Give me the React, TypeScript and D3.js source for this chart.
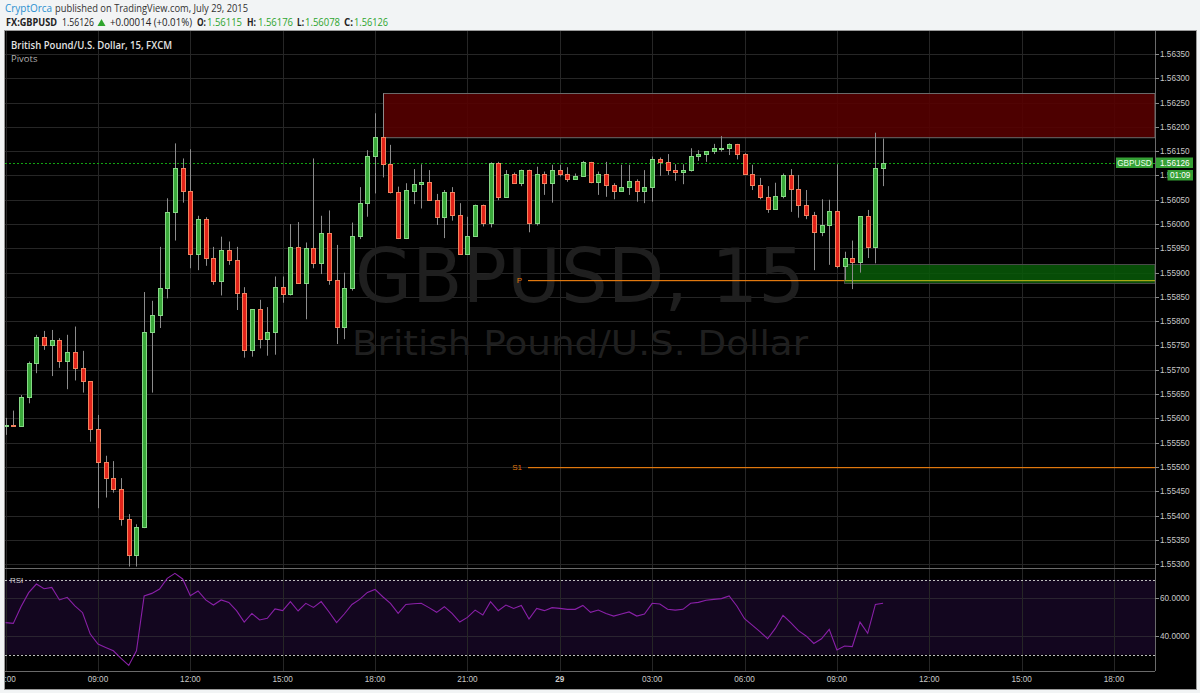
import React from 'react';
import * as d3 from 'd3';

const W = 1200;
const H = 693;

// first candle: 28 Jul 2015 06:00, 15-minute bars
const firstCandle = new Date(2015, 6, 28, 6, 0);

const opens = [
  1.55585, 1.55586, 1.55584, 1.55643, 1.55713, 1.55767, 1.55750, 1.55761, 1.55719, 1.55736, 1.55704, 1.55676,
  1.55578, 1.55510, 1.55477, 1.55455, 1.55393, 1.55318, 1.55377, 1.55778, 1.55812, 1.55868, 1.56024, 1.56115,
  1.56067, 1.55938, 1.56010, 1.55931, 1.55883, 1.55947, 1.55926, 1.55858, 1.55741, 1.55825, 1.55764, 1.55778,
  1.55870, 1.55855, 1.55953, 1.55879, 1.55951, 1.55919, 1.55982, 1.55885, 1.55789, 1.55868, 1.55975, 1.56043,
  1.56140, 1.56180, 1.56123, 1.56065, 1.55971, 1.56069, 1.56082, 1.56087, 1.56050, 1.56015, 1.56066, 1.56018,
  1.55939, 1.55975, 1.56039, 1.56003, 1.56126, 1.56056, 1.56104, 1.56085, 1.56111, 1.56002, 1.56102, 1.56084,
  1.56111, 1.56103, 1.56093, 1.56098, 1.56127, 1.56086, 1.56103, 1.56080, 1.56067, 1.56076, 1.56088, 1.56069,
  1.56076, 1.56133, 1.56128, 1.56111, 1.56108, 1.56111, 1.56140, 1.56144, 1.56150, 1.56155, 1.56157, 1.56164,
  1.56144, 1.56102, 1.56080, 1.56055, 1.56030, 1.56058, 1.56101, 1.56072, 1.56039, 1.56019, 1.55984, 1.55997,
  1.56026, 1.55914, 1.55930, 1.55921, 1.56016, 1.55953, 1.56115,
];
const highs = [
  1.55601, 1.55616, 1.55648, 1.55717, 1.55772, 1.55780, 1.55782, 1.55765, 1.55772, 1.55789, 1.55739, 1.55676,
  1.55607, 1.55523, 1.55512, 1.55477, 1.55403, 1.55382, 1.55860, 1.55842, 1.55953, 1.56053, 1.56166, 1.56135,
  1.56154, 1.56017, 1.56014, 1.55953, 1.55974, 1.55964, 1.55953, 1.55870, 1.55825, 1.55844, 1.55829, 1.55892,
  1.55892, 1.56000, 1.56004, 1.55962, 1.56135, 1.56017, 1.56028, 1.55957, 1.55900, 1.56003, 1.56076, 1.56152,
  1.56228, 1.56269, 1.56163, 1.56077, 1.56084, 1.56113, 1.56123, 1.56111, 1.56062, 1.56070, 1.56076, 1.56043,
  1.56015, 1.56040, 1.56040, 1.56127, 1.56128, 1.56111, 1.56106, 1.56112, 1.56112, 1.56118, 1.56108, 1.56122,
  1.56122, 1.56117, 1.56104, 1.56130, 1.56128, 1.56108, 1.56128, 1.56084, 1.56122, 1.56122, 1.56092, 1.56111,
  1.56139, 1.56137, 1.56144, 1.56123, 1.56123, 1.56156, 1.56152, 1.56150, 1.56165, 1.56181, 1.56166, 1.56165,
  1.56146, 1.56122, 1.56095, 1.56078, 1.56085, 1.56104, 1.56113, 1.56101, 1.56070, 1.56025, 1.56051, 1.56050,
  1.56123, 1.55943, 1.55966, 1.56016, 1.56029, 1.56188, 1.56176,
];
const lows = [
  1.55566, 1.55583, 1.55583, 1.55631, 1.55693, 1.55741, 1.55687, 1.55704, 1.55660, 1.55678, 1.55653, 1.55552,
  1.55415, 1.55437, 1.55447, 1.55379, 1.55295, 1.55295, 1.55374, 1.55653, 1.55786, 1.55847, 1.55966, 1.56044,
  1.55909, 1.55905, 1.55914, 1.55875, 1.55853, 1.55916, 1.55823, 1.55725, 1.55727, 1.55744, 1.55729, 1.55731,
  1.55838, 1.55853, 1.55878, 1.55804, 1.55909, 1.55897, 1.55875, 1.55753, 1.55763, 1.55863, 1.55969, 1.56015,
  1.56063, 1.56096, 1.56063, 1.55969, 1.55969, 1.56041, 1.56032, 1.56049, 1.55998, 1.55971, 1.56007, 1.55938,
  1.55938, 1.55975, 1.55995, 1.55993, 1.56049, 1.56056, 1.56084, 1.56078, 1.55983, 1.55997, 1.56060, 1.56044,
  1.56098, 1.56087, 1.56091, 1.56097, 1.56084, 1.56060, 1.56056, 1.56051, 1.56067, 1.56060, 1.56046, 1.56043,
  1.56046, 1.56099, 1.56101, 1.56089, 1.56082, 1.56108, 1.56130, 1.56128, 1.56144, 1.56149, 1.56142, 1.56133,
  1.56102, 1.56070, 1.56051, 1.56023, 1.56029, 1.56053, 1.56025, 1.56013, 1.56010, 1.55905, 1.55975, 1.55916,
  1.55909, 1.55885, 1.55866, 1.55900, 1.55930, 1.55919, 1.56078,
];
const closes = [
  1.55586, 1.55585, 1.55643, 1.55713, 1.55767, 1.55750, 1.55761, 1.55719, 1.55736, 1.55704, 1.55676, 1.55578,
  1.55510, 1.55477, 1.55455, 1.55393, 1.55318, 1.55377, 1.55778, 1.55812, 1.55868, 1.56024, 1.56115, 1.56067,
  1.55938, 1.56010, 1.55931, 1.55883, 1.55947, 1.55926, 1.55858, 1.55741, 1.55825, 1.55764, 1.55778, 1.55870,
  1.55855, 1.55953, 1.55879, 1.55951, 1.55919, 1.55982, 1.55885, 1.55789, 1.55868, 1.55975, 1.56043, 1.56140,
  1.56180, 1.56123, 1.56065, 1.55971, 1.56070, 1.56082, 1.56087, 1.56050, 1.56015, 1.56066, 1.56018, 1.55939,
  1.55975, 1.56039, 1.56003, 1.56126, 1.56056, 1.56104, 1.56085, 1.56111, 1.56002, 1.56102, 1.56084, 1.56111,
  1.56103, 1.56093, 1.56098, 1.56127, 1.56086, 1.56103, 1.56080, 1.56067, 1.56076, 1.56088, 1.56069, 1.56076,
  1.56133, 1.56128, 1.56111, 1.56108, 1.56111, 1.56140, 1.56144, 1.56150, 1.56156, 1.56157, 1.56164, 1.56144,
  1.56102, 1.56080, 1.56055, 1.56030, 1.56058, 1.56101, 1.56072, 1.56039, 1.56019, 1.55984, 1.55997, 1.56026,
  1.55914, 1.55930, 1.55921, 1.56016, 1.55953, 1.56115, 1.56126,
];
const rsiValues = [
  47.1, 46.7, 55.6, 63.1, 67.7, 65.2, 65.9, 59.2, 60.6, 56.0, 52.4, 41.0,
  35.7, 33.9, 32.1, 28.0, 24.3, 32.1, 61.3, 62.7, 65.0, 70.7, 73.4, 70.4,
  61.5, 64.0, 59.2, 56.5, 59.2, 57.9, 53.5, 47.4, 52.0, 48.5, 49.4, 54.4,
  53.5, 58.3, 53.3, 57.4, 55.2, 58.3, 52.9, 47.1, 51.7, 56.8, 59.5, 63.2,
  64.8, 60.9, 57.4, 52.0, 56.8, 57.2, 57.4, 55.1, 52.6, 55.6, 52.0, 47.4,
  49.9, 53.8, 51.2, 58.3, 53.5, 56.5, 54.7, 56.3, 49.0, 54.7, 53.5, 55.1,
  54.7, 54.2, 54.2, 56.3, 52.6, 53.8, 52.0, 50.6, 51.7, 52.8, 50.6, 51.7,
  57.4, 57.0, 54.2, 53.8, 54.2, 57.4, 57.9, 59.0, 59.5, 59.9, 61.3, 56.0,
  49.2, 45.8, 42.3, 38.5, 44.0, 51.0, 47.1, 42.8, 40.0, 36.0, 38.5, 43.5,
  32.5, 34.6, 34.3, 47.4, 41.4, 56.8, 57.4,
];

const priceTicks = [
  1.553, 1.5535, 1.554, 1.5545, 1.555, 1.5555, 1.556, 1.5565, 1.557, 1.5575, 1.558,
  1.5585, 1.559, 1.5595, 1.56, 1.5605, 1.561, 1.5615, 1.562, 1.5625, 1.563, 1.5635,
];
const rsiTicks = [40, 60];
const rsiBands = [30, 70];

const lastPrice = 1.56126;
const countdown = '01:09';
const symbol = 'GBPUSD';

const redZone = { start: new Date(2015, 6, 28, 18, 15), top: 1.5627, bottom: 1.56179 };
const greenZone = { start: new Date(2015, 6, 29, 9, 15), top: 1.55917, bottom: 1.55878 };
const pivots = [
  { label: 'P', value: 1.55884, start: new Date(2015, 6, 28, 23, 0) },
  { label: 'S1', value: 1.555, start: new Date(2015, 6, 28, 23, 0) },
];

// layout
const L = 5;
const PR = 1155; // plot right
const FR = 1196; // frame right
const MT = 31;
const MB = 568;
const RT = 569;
const RB = 671;
const FB = 689;

const xScale = d3
  .scaleTime()
  .domain([new Date(2015, 6, 28, 6, 0), new Date(2015, 6, 29, 18, 0)])
  .range([5.6, 1114]);
const yScale = d3.scaleLinear().domain([1.553, 1.5635]).range([564.1, 54]);
const rsiScale = d3.scaleLinear().domain([30, 70]).range([654.7, 579.7]);

const timeTicks = d3.timeHour.every(3)!.range(new Date(2015, 6, 28, 6, 0), new Date(2015, 6, 29, 18, 1));

const candles = opens.map((o, k) => ({
  t: new Date(firstCandle.getTime() + k * 15 * 60000),
  o,
  h: highs[k],
  l: lows[k],
  c: closes[k],
}));

const GREEN = '#3aa83a';
const GREEN_EDGE = '#86d886';
const RED = '#e2231a';
const RED_EDGE = '#f2825e';
const GRID = '#262626';
const AXIS_TXT = '#c8c8c8';
const ORANGE = '#e0780f';
const FONT_AX = '"Liberation Sans", Arial, sans-serif';
const FONT_HD = '"Open Sans", "Liberation Sans", sans-serif';

export default function App() {
  const rsiLine = d3
    .line<number>()
    .x((_, k) => xScale(candles[k].t))
    .y((v) => rsiScale(v));

  const crisp = (v: number) => Math.round(v) + 0.5;
  const gzX = crisp(xScale(greenZone.start)) - 1;

  return (
    <svg
      width={W}
      height={H}
      style={{ position: 'absolute', left: 0, top: 0, display: 'block' }}
    >
      <defs>
        <clipPath id="mainClip">
          <rect x={L} y={MT} width={PR - L} height={MB - MT} />
        </clipPath>
        <clipPath id="rsiClip">
          <rect x={L} y={RT} width={PR - L} height={RB - RT} />
        </clipPath>
        <clipPath id="frameClip">
          <rect x={L} y={MT} width={FR - L} height={FB - MT} />
        </clipPath>
      </defs>
      <rect x={0} y={0} width={W} height={H} fill="#f2f4f5" />

      {/* header */}
      <g fontFamily={FONT_HD} fontSize={11}>
        <text x={5} y={12} fill="#2a8fd0" textLength={47} lengthAdjust="spacingAndGlyphs">CryptOrca</text>
        <text x={55} y={12} fill="#333" textLength={193} lengthAdjust="spacingAndGlyphs">published on TradingView.com, July 29, 2015</text>
        <text x={6} y={26} fill="#222" fontWeight="bold" textLength={51} lengthAdjust="spacingAndGlyphs">FX:GBPUSD</text>
        <text x={62} y={26} fill="#222" textLength={32} lengthAdjust="spacingAndGlyphs">1.56126</text>
        <polygon points="97.5,26 105.5,26 101.5,19" fill="#2ea52e" />
        <text x={110} y={26} fill="#222" textLength={82} lengthAdjust="spacingAndGlyphs">+0.00014 (+0.01%)</text>
        <text x={197} y={26} fill="#222" fontWeight="bold" textLength={9} lengthAdjust="spacingAndGlyphs">O:</text>
        <text x={207} y={26} fill="#2ea52e" textLength={35} lengthAdjust="spacingAndGlyphs">1.56115</text>
        <text x={247} y={26} fill="#222" fontWeight="bold" textLength={9} lengthAdjust="spacingAndGlyphs">H:</text>
        <text x={258} y={26} fill="#2ea52e" textLength={35} lengthAdjust="spacingAndGlyphs">1.56176</text>
        <text x={297} y={26} fill="#222" fontWeight="bold" textLength={7} lengthAdjust="spacingAndGlyphs">L:</text>
        <text x={305} y={26} fill="#2ea52e" textLength={35} lengthAdjust="spacingAndGlyphs">1.56078</text>
        <text x={344} y={26} fill="#222" fontWeight="bold" textLength={9} lengthAdjust="spacingAndGlyphs">C:</text>
        <text x={354} y={26} fill="#2ea52e" textLength={34} lengthAdjust="spacingAndGlyphs">1.56126</text>
      </g>

      {/* frame */}
      <rect x={L - 0.5} y={MT - 0.5} width={FR - L + 1} height={FB - MT + 1} fill="#000" stroke="#9a9a9a" />

      {/* main pane */}
      <g clipPath="url(#mainClip)">
        {priceTicks.map((p) => (
          <line key={p} x1={L} x2={PR} y1={crisp(yScale(p))} y2={crisp(yScale(p))} stroke={GRID} />
        ))}
        {timeTicks.map((t) => (
          <line key={+t} x1={crisp(xScale(t))} x2={crisp(xScale(t))} y1={MT} y2={MB} stroke={GRID} />
        ))}
        {/* watermark */}
        <text x={580} y={302} textAnchor="middle" fontFamily='"DejaVu Sans", sans-serif' fontSize={74} fill="#1f1f1f" textLength={450} lengthAdjust="spacingAndGlyphs">GBPUSD, 15</text>
        <text x={580} y={355} textAnchor="middle" fontFamily='"DejaVu Sans", sans-serif' fontSize={34} fill="#1f1f1f" textLength={456} lengthAdjust="spacingAndGlyphs">British Pound/U.S. Dollar</text>

        {/* pivots */}
        {pivots.map((pv) => (
          <g key={pv.label}>
            <rect x={xScale(pv.start) - 1} y={Math.round(yScale(pv.value))} width={PR - xScale(pv.start) + 1} height={1.2} fill={ORANGE} />
            <text x={xScale(pv.start) - 7} y={yScale(pv.value) + 3} textAnchor="end" fontFamily={FONT_AX} fontSize={8} fill={ORANGE}>{pv.label}</text>
          </g>
        ))}

        {/* zones */}
        <rect x={crisp(xScale(redZone.start))} y={crisp(yScale(redZone.top))} width={PR - crisp(xScale(redZone.start))} height={yScale(redZone.bottom) - yScale(redZone.top)} fill="#580000" fillOpacity={0.88} stroke="#6a6a6a" />
        <rect x={gzX} y={crisp(yScale(greenZone.top))} width={PR - gzX} height={yScale(greenZone.bottom) - yScale(greenZone.top)} fill="#085a08" fillOpacity={0.85} stroke="#4a4a4a" />
        {/* pivot seen through the green zone */}
        <rect x={gzX} y={Math.round(yScale(pivots[0].value))} width={PR - gzX} height={1.2} fill="#a6a616" />

        {/* current price line */}
        <line x1={L} x2={PR} y1={crisp(yScale(lastPrice))} y2={crisp(yScale(lastPrice))} stroke="#12a412" strokeDasharray="2,2" />

        {/* candles */}
        {candles.map((d, k) => {
          const x = Math.round(xScale(d.t));
          const up = d.c >= d.o;
          const yTop = yScale(Math.max(d.o, d.c));
          const yBot = yScale(Math.min(d.o, d.c));
          return (
            <g key={k}>
              <line x1={x + 0.5} x2={x + 0.5} y1={yScale(d.h)} y2={yScale(d.l)} stroke="#8c8c8c" />
              <rect
                x={x - 1.5}
                y={Math.round(yTop) + 0.5}
                width={4}
                height={Math.max(1, Math.round(yBot) - Math.round(yTop))}
                fill={up ? GREEN : RED}
                stroke={up ? GREEN_EDGE : RED_EDGE}
              />
            </g>
          );
        })}
      </g>

      {/* title */}
      <text x={11} y={48.5} fontFamily={FONT_HD} fontSize={11} fontWeight={600} fill="#e2e2e2" textLength={161} lengthAdjust="spacingAndGlyphs">British Pound/U.S. Dollar, 15, FXCM</text>
      <text x={11} y={62} fontFamily={FONT_HD} fontSize={9.5} fill="#b0b0b0">Pivots</text>

      {/* RSI pane */}
      <g clipPath="url(#rsiClip)">
        <rect x={L} y={rsiScale(70)} width={PR - L} height={rsiScale(30) - rsiScale(70)} fill="#13061f" />
        {rsiTicks.map((v) => (
          <line key={v} x1={L} x2={PR} y1={crisp(rsiScale(v))} y2={crisp(rsiScale(v))} stroke="#2a2430" />
        ))}
        {timeTicks.map((t) => (
          <line key={+t} x1={crisp(xScale(t))} x2={crisp(xScale(t))} y1={RT} y2={RB} stroke={GRID} />
        ))}
        {rsiBands.map((v) => (
          <line key={v} x1={L} x2={PR} y1={crisp(rsiScale(v))} y2={crisp(rsiScale(v))} stroke="#bdbdbd" strokeDasharray="2,2" />
        ))}
        <path d={rsiLine(rsiValues) || ''} fill="none" stroke="#8a20a8" strokeWidth={1.1} />
      </g>
      <text x={10} y={583} fontFamily={FONT_AX} fontSize={8} fill={AXIS_TXT}>RSI</text>

      {/* pane separators */}
      <line x1={L} x2={PR} y1={MB + 0.5} y2={MB + 0.5} stroke="#6a6a6a" />
      <line x1={L} x2={PR} y1={RB + 0.5} y2={RB + 0.5} stroke="#6a6a6a" />
      <line x1={PR + 0.5} x2={PR + 0.5} y1={MT} y2={RB} stroke="#6a6a6a" />

      {/* price axis */}
      <g fontFamily={FONT_AX} fontSize={8.2} fill={AXIS_TXT}>
        {priceTicks.map((p) => {
          const y = yScale(p);
          if (y > MB - 6) return null;
          return (
            <g key={p}>
              <line x1={PR} x2={PR + 4} y1={crisp(y)} y2={crisp(y)} stroke="#8a8a8a" />
              <text x={1160} y={y + 3}>{p.toFixed(5)}</text>
            </g>
          );
        })}
        {rsiTicks.map((v) => (
          <g key={v}>
            <line x1={PR} x2={PR + 4} y1={crisp(rsiScale(v))} y2={crisp(rsiScale(v))} stroke="#8a8a8a" />
            <text x={1160} y={rsiScale(v) + 3}>{v.toFixed(4)}</text>
          </g>
        ))}
      </g>
      {/* bottom price label, cut by the pane separator */}
      <svg x={1156} y={555} width={40} height={12.5} overflow="hidden">
        <line x1={-1} x2={3} y1={crisp(yScale(1.553)) - 555} y2={crisp(yScale(1.553)) - 555} stroke="#8a8a8a" />
        <text x={4} y={yScale(1.553) - 555 + 3} fontFamily={FONT_AX} fontSize={8.2} fill={AXIS_TXT}>1.55300</text>
      </svg>

      {/* last price labels */}
      <g fontFamily={FONT_AX} fontSize={8.2}>
        <rect x={1116} y={157.5} width={37} height={10.5} fill="#35a035" />
        <text x={1134.5} y={165.8} textAnchor="middle" fill="#eaffea">{symbol}</text>
        <rect x={1156} y={157.5} width={37} height={10.5} fill="#35a035" />
        <text x={1160} y={165.8} fill="#ffffff">{lastPrice.toFixed(5)}</text>
        <rect x={1167.5} y={170} width={25.5} height={10.5} fill="#35a035" />
        <text x={1180.2} y={178.3} textAnchor="middle" fill="#ffffff">{countdown}</text>
      </g>

      {/* time axis */}
      <g clipPath="url(#frameClip)" fontFamily={FONT_AX} fontSize={8.2} fill={AXIS_TXT}>
        {timeTicks.map((t) => {
          const isDay = t.getHours() === 0;
          return (
            <text key={+t} x={xScale(t)} y={682} textAnchor="middle" fontWeight={isDay ? 'bold' : 'normal'}>
              {isDay ? d3.timeFormat('%-d')(t) : d3.timeFormat('%H:%M')(t)}
            </text>
          );
        })}
      </g>
    </svg>
  );
}
